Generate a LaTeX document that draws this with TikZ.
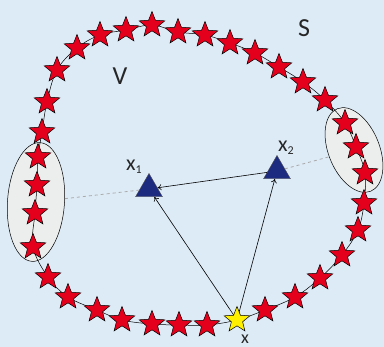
\documentclass[tikz,border=0pt]{standalone}
\usepackage{fontspec}
\setmainfont{Carlito}
\usetikzlibrary{shapes.geometric,arrows.meta}
\definecolor{bg}{RGB}{221,235,247}
\definecolor{starred}{RGB}{228,0,28}
\definecolor{staryel}{RGB}{255,240,0}
\definecolor{trinavy}{RGB}{28,42,128}
\definecolor{ellgray}{RGB}{236,237,237}
\definecolor{dashgray}{RGB}{170,170,170}
\tikzset{
  rstar/.style={star,star points=5,star point ratio=2.3,minimum size=27pt,inner sep=0pt,draw=black,line width=0.5pt,fill=starred},
  ystar/.style={rstar,fill=staryel},
  tribox/.style={regular polygon,regular polygon sides=3,minimum size=31pt,inner sep=0pt,draw=black!70,line width=0.4pt,fill=trinavy},
  grp/.style={ellipse,inner sep=0pt,draw=black,line width=0.5pt,fill=ellgray},
  arr/.style={-{To[length=4pt,width=6pt]},line width=0.6pt},
  dsh/.style={dash pattern=on 3pt off 3pt,dashgray,line width=0.8pt},
  lbl/.style={font=\fontsize{22}{22}\selectfont,text=black!85,inner sep=0pt},
  big/.style={font=\fontsize{26}{26}\selectfont,text=black!85,inner sep=0pt}
}
\newcommand{\sbx}[1]{\raisebox{-3pt}{\fontsize{12}{12}\selectfont #1}}
\begin{document}
\begin{tikzpicture}[x=1pt,y=-1pt]
\fill[bg] (0,0) rectangle (384,347);
\useasboundingbox (0,0) rectangle (384,347);
% group ellipses
\node[grp,minimum width=57pt,minimum height=119pt,rotate=-4] (lE) at (36,202) {};
\node[grp,minimum width=51pt,minimum height=89pt,rotate=22] (rE) at (354,150) {};
% curve points
\coordinate (p1) at (77,48);
\coordinate (p2) at (100,35);
\coordinate (p3) at (126,30);
\coordinate (p4) at (152,25);
\coordinate (p5) at (178,32);
\coordinate (p6) at (205,35);
\coordinate (p7) at (230,43);
\coordinate (p8) at (255,53);
\coordinate (p9) at (279,67);
\coordinate (p10) at (303,82);
\coordinate (p11) at (325,100);
\coordinate (p12) at (345,123);
\coordinate (p13) at (356,147);
\coordinate (p14) at (365,173);
\coordinate (p15) at (364,203);
\coordinate (p16) at (358,230);
\coordinate (p17) at (342,255);
\coordinate (p18) at (320,278);
\coordinate (p19) at (295,297);
\coordinate (p20) at (265,310);
\coordinate (p21) at (237,320);
\coordinate (p22) at (207,325);
\coordinate (p23) at (179,325);
\coordinate (p24) at (152,324);
\coordinate (p25) at (122,320);
\coordinate (p26) at (97,310);
\coordinate (p27) at (68,297);
\coordinate (p28) at (48,277);
\coordinate (p29) at (33,247);
\coordinate (p30) at (35,213);
\coordinate (p31) at (37,185);
\coordinate (p32) at (38,157);
\coordinate (p33) at (42,132);
\coordinate (p34) at (47,102);
\coordinate (p35) at (57,70);
\draw[line width=0.5pt] plot[smooth cycle,tension=0.6] coordinates {(p1) (p2) (p3) (p4) (p5) (p6) (p7) (p8) (p9) (p10) (p11) (p12) (p13) (p14) (p15) (p16) (p17) (p18) (p19) (p20) (p21) (p22) (p23) (p24) (p25) (p26) (p27) (p28) (p29) (p30) (p31) (p32) (p33) (p34) (p35)};
% triangles
\node[tribox] (t1) at (149,189) {};
\node[tribox] (t2) at (277,171) {};
% dashed links to groups
\draw[dsh] (lE) -- (t1);
\draw[dsh] (t2) -- (rE);
% arrows
\draw[arr] (p21) -- (t1);
\draw[arr] (p21) -- (t2);
\draw[arr] (t2) -- (t1);
% stars
\foreach \n in {1,...,20,22,23,...,35}
  \node[rstar] (s\n) at (p\n) {};
\node[ystar] (s21) at (p21) {};
% labels
\node[lbl] (l1) at (134,167) {x\sbx{1}};
\node[lbl] (l2) at (286,148) {x\sbx{2}};
\node[lbl,font=\fontsize{18}{18}\selectfont] (lx) at (245,339) {x};
\node[big] (V) at (120,76) {V};
\node[big] (S) at (304,28) {S};
\end{tikzpicture}
\end{document}
